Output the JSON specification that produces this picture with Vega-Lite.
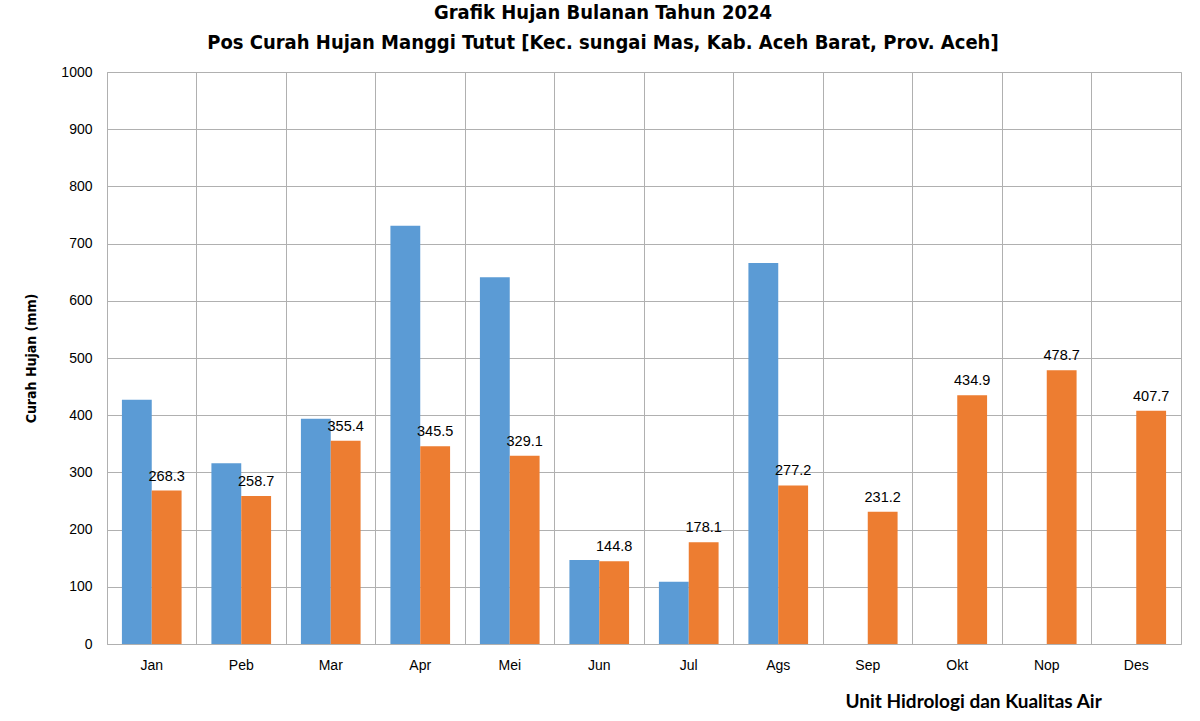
{
  "$schema": "https://vega.github.io/schema/vega-lite/v6.json",
  "width": 1074,
  "height": 572,
  "padding": {"left": 24, "top": 3, "right": 19, "bottom": 0},
  "background": "white",
  "title": {
    "text": ["Grafik Hujan Bulanan Tahun 2024", "Pos Curah Hujan Manggi Tutut [Kec. sungai Mas, Kab. Aceh Barat, Prov. Aceh]"],
    "font": "DejaVu Sans Condensed, Liberation Sans",
    "fontSize": 20,
    "fontWeight": "bold",
    "lineHeight": 30,
    "color": "#000000",
    "anchor": "middle",
    "frame": "bounds",
    "offset": 12
  },
  "config": {
    "view": {"stroke": "#b0b0b0", "strokeWidth": 1},
    "axis": {"labelFont": "Liberation Sans", "labelColor": "#000000", "titleColor": "#000000"}
  },
  "data": {
    "values": [
      {"bulan": "Jan", "seri": "Normal", "hujan": 427},
      {"bulan": "Jan", "seri": "2024", "hujan": 268.3},
      {"bulan": "Peb", "seri": "Normal", "hujan": 316},
      {"bulan": "Peb", "seri": "2024", "hujan": 258.7},
      {"bulan": "Mar", "seri": "Normal", "hujan": 394},
      {"bulan": "Mar", "seri": "2024", "hujan": 355.4},
      {"bulan": "Apr", "seri": "Normal", "hujan": 731},
      {"bulan": "Apr", "seri": "2024", "hujan": 345.5},
      {"bulan": "Mei", "seri": "Normal", "hujan": 641},
      {"bulan": "Mei", "seri": "2024", "hujan": 329.1},
      {"bulan": "Jun", "seri": "Normal", "hujan": 147},
      {"bulan": "Jun", "seri": "2024", "hujan": 144.8},
      {"bulan": "Jul", "seri": "Normal", "hujan": 109},
      {"bulan": "Jul", "seri": "2024", "hujan": 178.1},
      {"bulan": "Ags", "seri": "Normal", "hujan": 666},
      {"bulan": "Ags", "seri": "2024", "hujan": 277.2},
      {"bulan": "Sep", "seri": "2024", "hujan": 231.2},
      {"bulan": "Okt", "seri": "2024", "hujan": 434.9},
      {"bulan": "Nop", "seri": "2024", "hujan": 478.7},
      {"bulan": "Des", "seri": "2024", "hujan": 407.7}
    ]
  },
  "encoding": {
    "x": {
      "field": "bulan",
      "type": "nominal",
      "sort": ["Jan", "Peb", "Mar", "Apr", "Mei", "Jun", "Jul", "Ags", "Sep", "Okt", "Nop", "Des"],
      "scale": {"paddingInner": 0, "paddingOuter": 0},
      "axis": {
        "title": "Unit Hidrologi dan Kualitas Air",
        "titleFont": "Lato",
        "titleFontSize": 19,
        "titleFontWeight": "bold",
        "titleAnchor": "start",
        "titleAlign": "left",
        "titleBaseline": "alphabetic",
        "titleX": 738,
        "titleY": 63,
        "labelAngle": 0,
        "labelFontSize": 14,
        "labelPadding": 14,
        "ticks": false,
        "domain": false,
        "grid": true,
        "bandPosition": 0,
        "gridColor": "#b0b0b0",
        "gridOpacity": 1
      }
    },
    "xOffset": {
      "field": "seri",
      "type": "nominal",
      "scale": {"domain": ["Normal", "2024"], "paddingInner": 0, "paddingOuter": 0.5}
    },
    "y": {
      "field": "hujan",
      "type": "quantitative",
      "scale": {"domain": [0, 1000], "nice": false},
      "axis": {
        "title": "Curah Hujan (mm)",
        "titleFont": "DejaVu Sans Condensed, Liberation Sans",
        "titleFontSize": 14,
        "titleFontWeight": "bold",
        "titlePadding": 22,
        "format": "d",
        "values": [0, 100, 200, 300, 400, 500, 600, 700, 800, 900, 1000],
        "labelFontSize": 14,
        "labelPadding": 15,
        "ticks": false,
        "domain": false,
        "gridColor": "#b0b0b0",
        "gridOpacity": 1
      }
    }
  },
  "layer": [
    {
      "mark": {"type": "bar"},
      "encoding": {
        "color": {
          "field": "seri",
          "type": "nominal",
          "scale": {"domain": ["Normal", "2024"], "range": ["#5b9bd5", "#ed7d31"]},
          "legend": null
        }
      }
    },
    {
      "transform": [{"filter": "datum.seri == '2024'"}],
      "mark": {"type": "text", "baseline": "alphabetic", "dy": -10, "font": "Liberation Sans", "fontSize": 14.5, "color": "#000000"},
      "encoding": {
        "text": {"field": "hujan", "type": "quantitative", "format": ".1f"}
      }
    }
  ]
}
